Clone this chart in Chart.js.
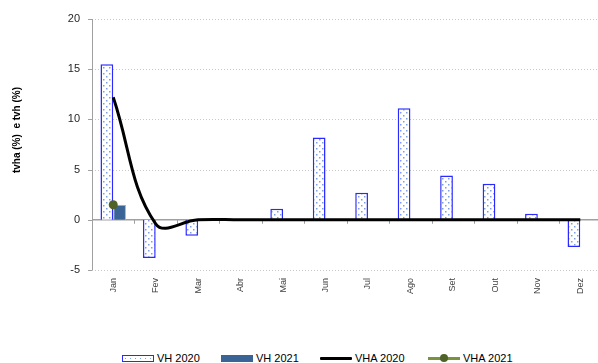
<!DOCTYPE html>
<html>
<head>
<meta charset="utf-8">
<script src="https://cdn.jsdelivr.net/npm/chart.js@4/dist/chart.umd.min.js"></script>
<style>
  html, body { margin: 0; padding: 0; background: #fff; overflow: hidden; }
  #wrap { position: relative; width: 598px; height: 363px; overflow: hidden; }
  #box { position: absolute; left: 0; top: 0; width: 606px; height: 301px; }
  #legend { position: absolute; top: 351px; left: 0; width: 598px; height: 14px;
            font: 11px "Liberation Sans", Arial, sans-serif; color: #000; }
  .item { position: absolute; top: 0; height: 14px; display: flex; align-items: center; }
  .sw { width: 32px; height: 7px; margin-right: 3px; box-sizing: border-box; position: relative; }
</style>
</head>
<body>
<div id="wrap">
  <div id="box"><canvas id="c"></canvas></div>
  <div id="legend"></div>
</div>
<script>
// Months and monthly rates (%)
const months = ['Jan','Fev','Mar','Abr','Mai','Jun','Jul','Ago','Set','Out','Nov','Dez'];
const vh2020 = [15.5, -3.8, -1.6, null, 1.1, 8.2, 2.7, 11.1, 4.4, 3.6, 0.6, -2.7];
const vh2021 = [1.5, null, null, null, null, null, null, null, null, null, null, null];
const vha2020 = [12.2, -0.4, 0, 0, 0, 0, 0, 0, 0, 0, 0, 0];
const vha2021 = [1.5, null, null, null, null, null, null, null, null, null, null, null];
const yTicks = [-5, 0, 5, 10, 15, 20];

// Dotted fill used by the 2020 bars
function dotPattern() {
  const t = document.createElement('canvas');
  t.width = 6; t.height = 6;
  const g = t.getContext('2d');
  g.fillStyle = '#ffffff';
  g.fillRect(0, 0, 6, 6);
  g.fillStyle = '#7f9fe0';
  g.fillRect(1, 1, 1.5, 1.5);
  g.fillRect(4, 4, 1.5, 1.5);
  return g.createPattern(t, 'repeat');
}
const ctx = document.getElementById('c').getContext('2d');
const dots = dotPattern();

// Axis lines, dotted grid, zero line and the y title
const frame = {
  id: 'frame',
  beforeDatasetsDraw(chart) {
    const { ctx, chartArea: a, scales: { x, y } } = chart;
    ctx.save();
    ctx.lineWidth = 1;
    yTicks.forEach(v => {
      const py = Math.round(y.getPixelForValue(v)) + 0.5;
      if (v !== 0) {
        ctx.strokeStyle = '#c8c8c8';
        ctx.setLineDash([1, 2]);
        ctx.beginPath(); ctx.moveTo(a.left, py); ctx.lineTo(a.right, py); ctx.stroke();
      }
      ctx.setLineDash([]);
      ctx.strokeStyle = '#a0a0a0';
      ctx.beginPath(); ctx.moveTo(a.left - 4, py); ctx.lineTo(a.left, py); ctx.stroke();
    });
    ctx.setLineDash([]);
    ctx.strokeStyle = '#a0a0a0';
    ctx.beginPath(); ctx.moveTo(a.left + 0.5, a.top); ctx.lineTo(a.left + 0.5, a.bottom); ctx.stroke();
    const y0 = y.getPixelForValue(0);
    ctx.lineWidth = 1.5;
    ctx.beginPath(); ctx.moveTo(a.left, y0); ctx.lineTo(a.right, y0); ctx.stroke();
    ctx.lineWidth = 1;
    const step = (a.right - a.left) / months.length;
    for (let i = 0; i <= months.length; i++) {
      const px = Math.round(a.left + i * step) + 0.5;
      ctx.beginPath(); ctx.moveTo(px, y0); ctx.lineTo(px, y0 + 4); ctx.stroke();
    }
    ctx.restore();
  },
  afterDraw(chart) {
    const c = chart.ctx;
    c.save();
    c.translate(17, 130);
    c.rotate(-Math.PI / 2);
    c.font = 'bold 10px "Liberation Sans", Arial, sans-serif';
    c.fillStyle = '#000';
    c.textAlign = 'center';
    c.textBaseline = 'middle';
    c.fillText('tvha (%)  e tvh (%)', 0, 0);
    c.restore();
  }
};

new Chart(ctx, {
  type: 'bar',
  data: {
    labels: months,
    datasets: [
      { type: 'line', label: 'VHA 2020', data: vha2020, borderColor: '#000', borderWidth: 3,
        pointRadius: 0, tension: 0.4, order: 1 },
      { type: 'line', label: 'VHA 2021', data: vha2021, borderColor: '#77933c', backgroundColor: '#4f6228',
        pointRadius: 4.5, pointBorderWidth: 0, order: 0 },
      { label: 'VH 2020', data: vh2020, backgroundColor: dots, borderColor: '#2a2aff', borderWidth: 1.5,
        categoryPercentage: 0.6, barPercentage: 1, order: 2 },
      { label: 'VH 2021', data: vh2021, backgroundColor: '#3a6496', borderColor: '#9db5d9', borderWidth: 1,
        categoryPercentage: 0.6, barPercentage: 1, order: 2 }
    ]
  },
  options: {
    responsive: true,
    maintainAspectRatio: false,
    animation: false,
    layout: { padding: { top: 19, right: 0, left: 0, bottom: 0 } },
    plugins: { legend: { display: false }, tooltip: { enabled: false } },
    scales: {
      x: {
        grid: { display: false, drawTicks: false },
        border: { display: false },
        ticks: { minRotation: 90, maxRotation: 90, padding: 8, color: '#404040',
                 font: { family: '"Liberation Sans", Arial, sans-serif', size: 9 } },
        afterFit(s) { s.height = 31; }
      },
      y: {
        min: -5, max: 20,
        grid: { display: false, drawTicks: false },
        border: { display: false },
        afterBuildTicks(s) { s.ticks = yTicks.map(v => ({ value: v })); },
        ticks: { padding: 12, color: '#262626',
                 font: { family: '"Liberation Sans", Arial, sans-serif', size: 11 } },
        afterFit(s) { s.width = 92; }
      }
    }
  },
  plugins: [frame]
});

// Legend row
const legendItems = [
  { text: 'VH 2020', left: 122, kind: 'dots' },
  { text: 'VH 2021', left: 221, kind: 'solid' },
  { text: 'VHA 2020', left: 320, kind: 'line' },
  { text: 'VHA 2021', left: 428, kind: 'dotline' }
];
const lg = document.getElementById('legend');
legendItems.forEach(it => {
  const d = document.createElement('div');
  d.className = 'item';
  d.style.left = it.left + 'px';
  const sw = document.createElement('div');
  sw.className = 'sw';
  if (it.kind === 'dots') {
    sw.style.border = '1.5px solid #2a2aff';
    sw.style.background = 'radial-gradient(circle, #7f9fe0 0.8px, transparent 1px) 0 0/5px 5px, #fff';
  } else if (it.kind === 'solid') {
    sw.style.background = '#3a6496';
  } else if (it.kind === 'line') {
    sw.style.height = '3px';
    sw.style.background = '#000';
    sw.style.borderRadius = '1px';
  } else {
    sw.style.height = '3px';
    sw.style.background = '#77933c';
    const dot = document.createElement('div');
    dot.style.cssText = 'position:absolute;left:12px;top:-3px;width:8px;height:8px;border-radius:50%;background:#4f6228;';
    sw.appendChild(dot);
  }
  d.appendChild(sw);
  const t = document.createElement('span');
  t.textContent = it.text;
  d.appendChild(t);
  lg.appendChild(d);
});
</script>
</body>
</html>
